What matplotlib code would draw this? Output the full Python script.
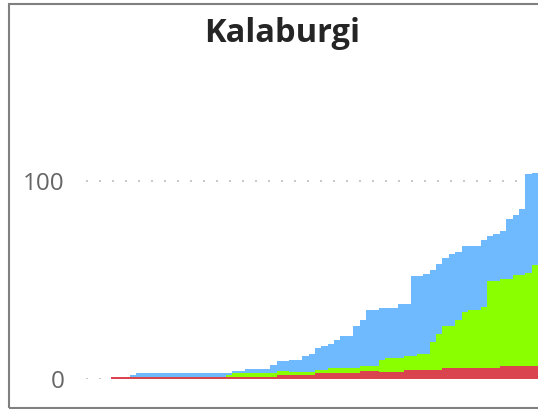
import matplotlib
matplotlib.use("Agg")
import matplotlib.pyplot as plt
from matplotlib.patches import Rectangle
import numpy as np

title = "Kalaburgi"
y_ticks = [0, 100]
y_tick_labels = ["0", "100"]

# cumulative heights (bottom -> top)
deaths = [1, 1, 1, 1, 1, 1, 1, 1, 1, 1, 1, 1, 1, 1, 1, 1, 1, 1, 1, 1,
          1, 1, 1, 1, 1, 1, 2, 2, 2, 2, 2, 2, 3, 3, 3, 3, 3, 3, 3.2, 4.2,
          4.2, 4.2, 3.7, 3.7, 3.7, 3.7, 4.7, 4.7, 4.7, 4.7, 4.7, 4.7, 5.7, 5.7, 5.7, 5.7,
          5.7, 5.7, 5.7, 5.7, 5.7, 6.6, 6.6, 6.6, 6.6, 6.6, 6.6]
deaths_plus_recovered = [1, 1, 1, 1, 1, 1, 1, 1, 1, 1, 1, 1, 1, 1, 1, 1, 1, 1, 2, 3,
                         3, 3, 3, 3, 3, 3, 4, 4, 3.5, 3.5, 3.5, 3.5, 4.5, 4.5, 5.6, 5.6, 5.6, 5.6, 5.7, 6.7,
                         6.7, 6.7, 9.8, 10.8, 10.8, 10.8, 11.8, 11.8, 12.8, 12.8, 18.8, 22.8, 26.8, 26.8, 29.8, 33.8,
                         34.8, 34.8, 36.4, 49.5, 49.5, 50.5, 50.5, 52.5, 52.5, 53.5, 57.6]
confirmed = [1, 1, 1, 2, 3, 3, 3, 3, 3, 3, 3, 3, 3, 3, 3, 3, 3, 3, 3, 4,
             4, 5, 5, 5, 5, 7, 9, 9, 9.6, 9.6, 11.6, 12.6, 15.7, 16.7, 17.7, 19.7, 21.7, 21.7, 26.8, 29.8,
             34.8, 34.8, 35.9, 35.9, 35.9, 37.9, 37.9, 52, 52, 53, 55, 58, 61, 63, 64, 67,
             67, 67, 70, 72, 73, 75, 81, 83, 86, 103.5, 104]

n_empty_before = 4

W, H = 538, 409
fig = plt.figure(figsize=(W / 100, H / 100), dpi=100)
fig.patch.set_facecolor("white")

px_per_bar = 6.375
ax_left_px = 111 - n_empty_before * px_per_bar
ax_right_px = 538
base_px = 379
unit_px = 1.98
ymax = 120
ax_h_px = ymax * unit_px
ax = fig.add_axes([ax_left_px / W, (H - base_px) / H,
                   (ax_right_px - ax_left_px) / W, ax_h_px / H])

d = np.array(deaths, dtype=float)
dr = np.array(deaths_plus_recovered, dtype=float)
c = np.array(confirmed, dtype=float)
x = np.arange(len(c))

red = "#d9444f"
green = "#8aff00"
blue = "#6fb9ff"

ax.bar(x, d, width=1.0, align="edge", color=red, linewidth=0, zorder=3)
ax.bar(x, dr - d, bottom=d, width=1.0, align="edge", color=green, linewidth=0, zorder=3)
ax.bar(x, c - dr, bottom=dr, width=1.0, align="edge", color=blue, linewidth=0, zorder=3)

ax.set_xlim(-n_empty_before, len(c))
ax.set_ylim(0, ymax)

for yv in y_ticks:
    ax.axhline(yv, color="#c8c8c8", linewidth=1.44, linestyle=(0, (1, 5.5)),
               zorder=1, dash_capstyle="butt")

ax.set_yticks(y_ticks)
ax.set_yticklabels(y_tick_labels)
ax.tick_params(axis="y", length=0, pad=15, labelsize=17.5, labelcolor="#666666")
for lab in ax.get_yticklabels():
    lab.set_fontfamily(["Open Sans", "DejaVu Sans"])
ax.set_xticks([])
for s in ax.spines.values():
    s.set_visible(False)
ax.patch.set_alpha(0)

fig.text(282 / W, 1 - 41.7 / H, title, ha="center", va="baseline",
         fontsize=23.5, fontweight="bold", color="#252525",
         family=["Open Sans", "DejaVu Sans"])

fig.patches.append(Rectangle((9.3 / W, 1 - 407.5 / H), 600 / W, (407.5 - 3.8) / H,
                             transform=fig.transFigure, fill=False,
                             edgecolor="#808080", linewidth=1.5, zorder=10))

fig.savefig("out.png", dpi=100)
